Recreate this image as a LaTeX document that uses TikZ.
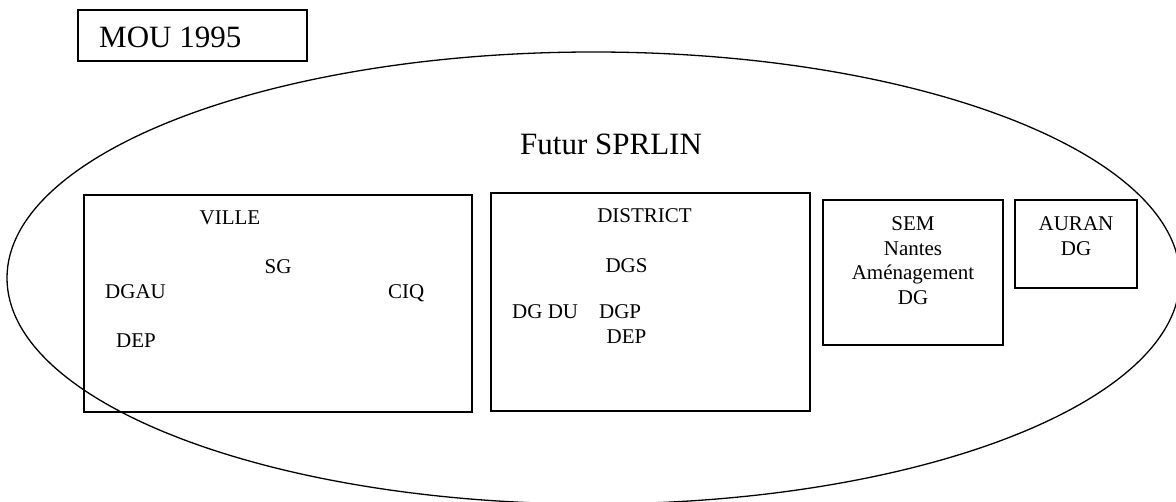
\documentclass[tikz,border=0pt]{standalone}
\usepackage{fontspec}
\setmainfont{Liberation Serif}
\usetikzlibrary{shapes.geometric}
\begin{document}
\begin{tikzpicture}[x=1pt,y=-1pt,
  frame/.style={draw,line width=1.3pt,inner sep=0pt,rectangle},
  small/.style={inner sep=0pt,font=\fontsize{21}{24.5}\selectfont},
  big/.style={inner sep=0pt,font=\fontsize{31}{36}\selectfont}]
\useasboundingbox (0,0) rectangle (1176,502);
% outer ellipse
\node[draw,ellipse,line width=1.3pt,inner sep=0pt,minimum width=1173pt,minimum height=452pt] (sprlin) at (593.5,278) {};
% boxes
\node[frame,minimum width=229pt,minimum height=51pt] (mou) at (192.5,35.5) {};
\node[frame,minimum width=388pt,minimum height=217pt] (ville) at (278,303.5) {};
\node[frame,minimum width=319pt,minimum height=218pt] (district) at (650.5,302) {};
\node[frame,minimum width=180pt,minimum height=145pt] (sem) at (913,272.5) {};
\node[frame,minimum width=122pt,minimum height=88pt] (auran) at (1076,244) {};
% texts
\node[big,anchor=base west] (moutxt) at (99,48) {MOU 1995};
\node[big,anchor=base west] (futur) at (520,155) {Futur SPRLIN};
\node[small,anchor=base] (villetxt) at (230,225) {VILLE};
\node[small,anchor=base] (sg) at (278,274) {SG};
\node[small,anchor=base west] (dgau) at (105,299) {DGAU};
\node[small,anchor=base west] (ciq) at (388,299) {CIQ};
\node[small,anchor=base west] (dep1) at (116,348) {DEP};
\node[small,anchor=base] (districttxt) at (644.5,223) {DISTRICT};
\node[small,anchor=base] (dgs) at (626.5,273) {DGS};
\node[small,anchor=base west] (dgdu) at (512,319) {DG DU\hspace{21pt}DGP};
\node[small,anchor=base] (dep2) at (626.5,344) {DEP};
\node[small,anchor=base] (sem1) at (913,231) {SEM};
\node[small,anchor=base] (sem2) at (913,255.5) {Nantes};
\node[small,anchor=base] (sem3) at (913,280) {Aménagement};
\node[small,anchor=base] (sem4) at (913,304.5) {DG};
\node[small,anchor=base] (auran1) at (1076,231) {AURAN};
\node[small,anchor=base] (auran2) at (1076,255.5) {DG};
\end{tikzpicture}
\end{document}
